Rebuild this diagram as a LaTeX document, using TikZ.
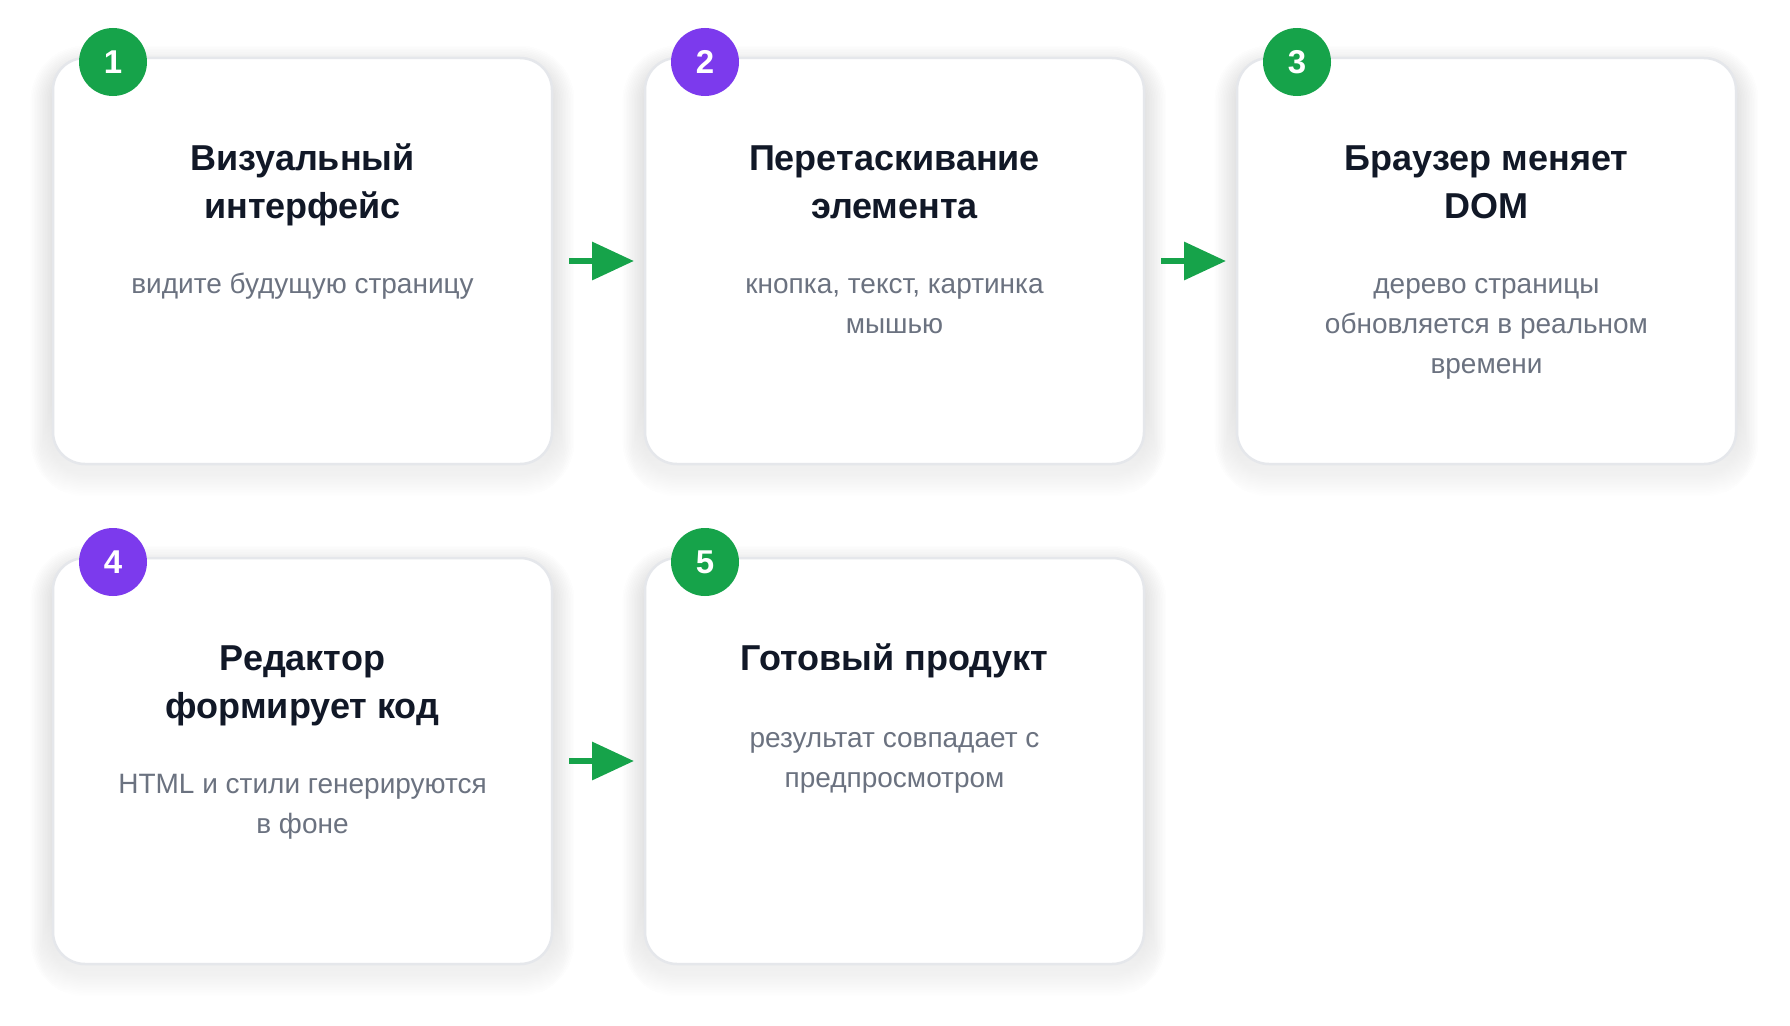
\documentclass[tikz,border=0pt]{standalone}
\usepackage{fontspec}
\setmainfont{Liberation Sans}
\usetikzlibrary{arrows.meta}
\definecolor{grn}{HTML}{16A34A}
\definecolor{prp}{HTML}{7C3AED}
\definecolor{ink}{HTML}{111827}
\definecolor{mute}{HTML}{6B7280}
\definecolor{cardline}{HTML}{E5E7EB}
\definecolor{shade}{HTML}{1E293B}
\newcommand\cardshadow[2]{%
  \foreach \k in {1,...,14}{%
    \pgfmathsetmacro\rr{32+\k*1.6}%
    \fill[shade,opacity=0.0045,rounded corners=\rr pt]
      ({#1-\k*1.6},{#2+10-\k*1.6}) rectangle ({#1+499+\k*1.6},{#2+406+10+\k*1.6});
  }%
}
\begin{document}
\begin{tikzpicture}[x=1pt,y=-1pt,
  card/.style={draw=cardline,line width=2.5pt,fill=white,rounded corners=32pt,
    minimum width=499pt,minimum height=406pt,inner sep=0pt,outer sep=0pt,anchor=north west},
  badge/.style={circle,minimum size=68pt,inner sep=0pt,text=white,
    font=\fontsize{33}{33}\selectfont\bfseries},
  ttl/.style={font=\fontsize{36}{48}\selectfont\bfseries,text=ink,align=center,
    anchor=north,inner sep=0pt},
  sub/.style={font=\fontsize{28}{40}\selectfont,text=mute,align=center,
    anchor=north,inner sep=0pt},
  arr/.style={draw=grn,line width=6.5pt,-{Triangle[length=42pt,width=37pt]}}
]
\useasboundingbox (0,0) rectangle (1790,1025);
\fill[white] (0,0) rectangle (1790,1025);

% shadows
\cardshadow{53}{58}
\cardshadow{645}{58}
\cardshadow{1237}{58}
\cardshadow{53}{558}
\cardshadow{645}{558}

% cards
\node[card] (c1) at (53,58) {};
\node[card] (c2) at (645,58) {};
\node[card] (c3) at (1237,58) {};
\node[card] (c4) at (53,558) {};
\node[card] (c5) at (645,558) {};

% badges
\node[badge,fill=grn] (b1) at (113,62) {1};
\node[badge,fill=prp] (b2) at (705,62) {2};
\node[badge,fill=grn] (b3) at (1297,62) {3};
\node[badge,fill=prp] (b4) at (113,562) {4};
\node[badge,fill=grn] (b5) at (705,562) {5};

% titles
\node[ttl] (t1) at (302.5,136.4) {\strut Визуальный\\интерфейс};
\node[ttl] (t2) at (894.5,136.4) {\strut Перетаскивание\\элемента};
\node[ttl] (t3) at (1486.5,136.4) {\strut Браузер меняет\\DOM};
\node[ttl] (t4) at (302.5,636.4) {\strut Редактор\\формирует код};
\node[ttl] (t5) at (894.5,636.4) {\strut Готовый продукт};

% subtitles
\node[sub] (s1) at (302.5,265) {\strut видите будущую страницу};
\node[sub] (s2) at (894.5,265) {\strut кнопка, текст, картинка\\мышью};
\node[sub] (s3) at (1486.5,265) {\strut дерево страницы\\обновляется в реальном\\времени};
\node[sub] (s4) at (302.5,765) {\strut HTML и стили генерируются\\в фоне};
\node[sub] (s5) at (894.5,719) {\strut результат совпадает с\\предпросмотром};

% arrows
\draw[arr] ([xshift=17pt]c1.east) -- ([xshift=-11pt]c2.west);
\draw[arr] ([xshift=17pt]c2.east) -- ([xshift=-11pt]c3.west);
\draw[arr] ([xshift=17pt]c4.east) -- ([xshift=-11pt]c5.west);
\end{tikzpicture}
\end{document}
